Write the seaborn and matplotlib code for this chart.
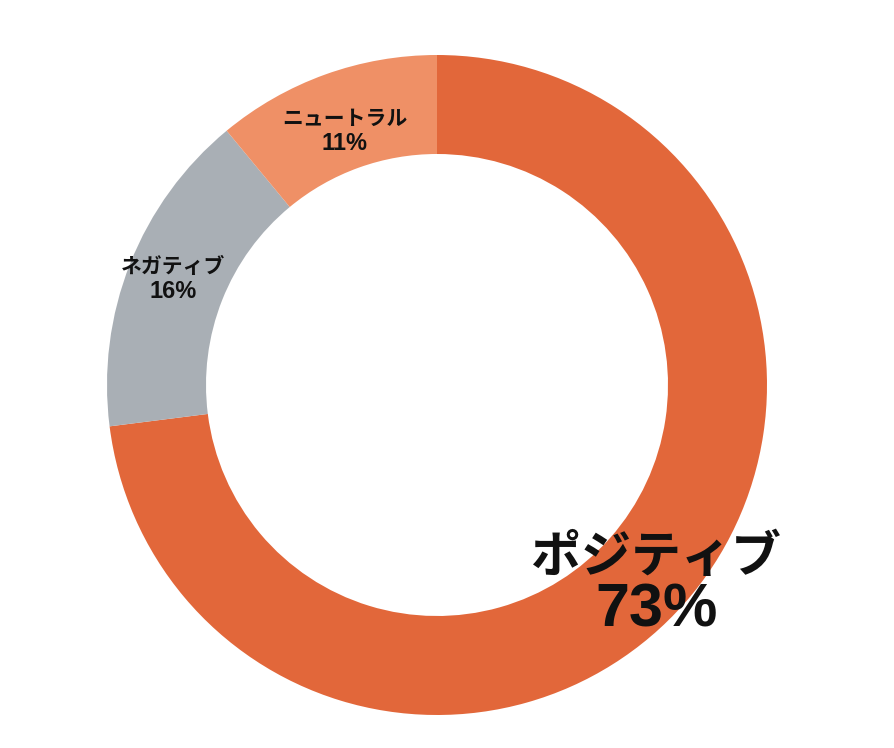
import numpy as np
import matplotlib.pyplot as plt
import seaborn as sns

sns.set_style("white")
plt.rcParams['font.family'] = ['Noto Sans CJK JP', 'DejaVu Sans']

labels = ["ポジティブ", "ネガティブ", "ニュートラル"]
values = [73, 16, 11]
colors = ["#E2673A", "#A9AFB5", "#EF9066"]

fig = plt.figure(figsize=(8.94, 7.48), dpi=100)
ax = fig.add_axes([0, 0, 1, 1])
cx, cy, R = 437, 748 - 385, 330
wedges, _ = ax.pie(values, colors=colors, startangle=90, counterclock=False,
                   radius=R, center=(cx, cy),
                   wedgeprops=dict(width=R * 0.3, linewidth=0))
ax.set_xlim(0, 894)
ax.set_ylim(0, 748)
ax.set_aspect("equal")
ax.axis("off")

# label placement: radius factor, angle shift, name size, pct size, half gap, y shift (px)
place = [(0.885, 0, 36, 44, 27, -6), (0.864, -0.6, 15, 17, 12.5, -2),
         (0.824, 0, 15, 17, 12.5, -2)]
for w, lab, v, (rf, da, fs1, fs2, gap, dy) in zip(wedges, labels, values, place):
    ang = np.deg2rad((w.theta1 + w.theta2) / 2 + da)
    x = cx + R * rf * np.cos(ang)
    y = cy + R * rf * np.sin(ang) + dy
    ax.text(x, y + gap, lab, ha="center", va="center", fontsize=fs1,
            fontweight="bold", color="#111111")
    ax.text(x, y - gap, f"{v}%", ha="center", va="center", fontsize=fs2,
            fontweight="bold", color="#111111", family=["Liberation Sans"])

fig.savefig("out.png", dpi=100)
